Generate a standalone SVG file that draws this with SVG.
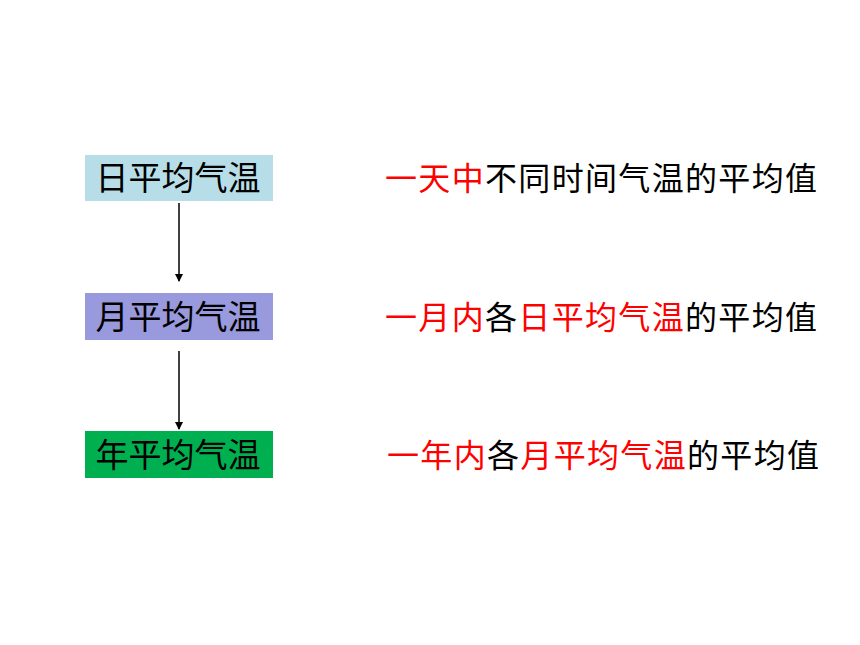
<svg xmlns="http://www.w3.org/2000/svg" width="860" height="645" viewBox="0 0 860 645">
<style>
text{font-family:"Noto Sans CJK SC","Noto Sans",sans-serif;font-size:32px;fill:#000;}
.b{font-size:33px;}
.r{fill:#ff0000;}
.c{stroke:#000;stroke-width:1.5;fill:none;}
</style>
<defs>
<marker id="ah" markerWidth="8" markerHeight="8" refX="7" refY="4" orient="auto" markerUnits="userSpaceOnUse">
<path d="M0,0 L8,4 L0,8 Z" fill="#000"/>
</marker>
</defs>
<rect width="860" height="645" fill="#fff"/>
<g id="n1">
<rect x="85" y="155" width="188" height="46" fill="#b7dee8"/>
<text class="b" x="178" y="190" text-anchor="middle">日平均气温</text>
</g>
<g id="n2">
<rect x="85" y="293" width="188" height="47" fill="#9999dd"/>
<text class="b" x="178" y="329" text-anchor="middle">月平均气温</text>
</g>
<g id="n3">
<rect x="85" y="431" width="188" height="47" fill="#00b050"/>
<text class="b" x="178" y="467" text-anchor="middle">年平均气温</text>
</g>
<g id="connectors">
<line class="c" x1="179" y1="203" x2="179" y2="281" marker-end="url(#ah)"/>
<line class="c" x1="179" y1="351" x2="179" y2="429" marker-end="url(#ah)"/>
</g>
<g id="d1">
<text x="385" y="190" textLength="432" lengthAdjust="spacing"><tspan class="r">一天中</tspan>不同时间气温的平均值</text>
</g>
<g id="d2">
<text x="385" y="329" textLength="432" lengthAdjust="spacing"><tspan class="r">一月内</tspan>各<tspan class="r">日平均气温</tspan>的平均值</text>
</g>
<g id="d3">
<text x="387" y="467" textLength="432" lengthAdjust="spacing"><tspan class="r">一年内</tspan>各<tspan class="r">月平均气温</tspan>的平均值</text>
</g>
</svg>
